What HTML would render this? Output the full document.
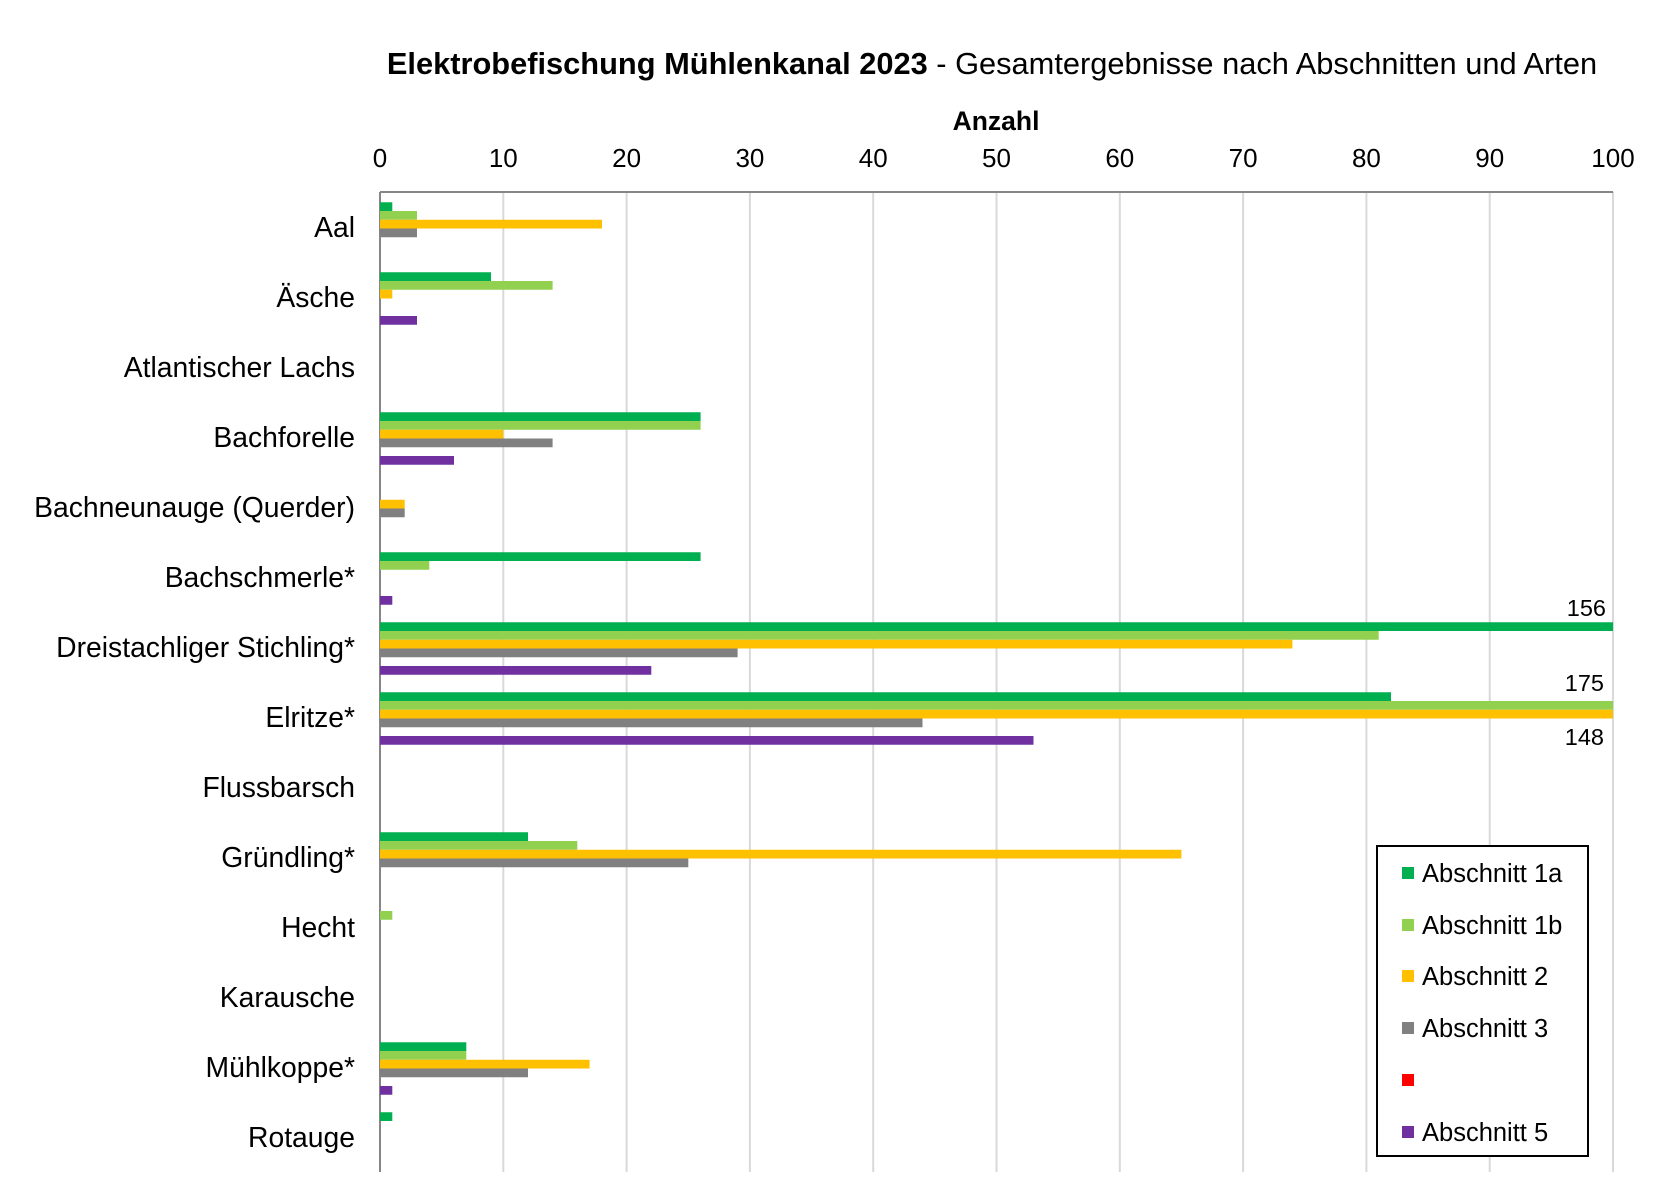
<!DOCTYPE html>
<html><head><meta charset="utf-8"><style>
html,body{margin:0;padding:0;background:#fff}
svg{display:block;font-family:"Liberation Sans",Arial,sans-serif}
</style></head><body>
<svg width="1664" height="1200" viewBox="0 0 1664 1200">
<rect width="1664" height="1200" fill="#fff"/>
<text x="992" y="74" font-size="30.8" text-anchor="middle"><tspan font-weight="bold">Elektrobefischung Mühlenkanal 2023</tspan> - Gesamtergebnisse nach Abschnitten und Arten</text>
<text x="996" y="130" font-size="26.5" font-weight="bold" text-anchor="middle">Anzahl</text>
<g stroke="#d9d9d9" stroke-width="2">
<line x1="503.3" y1="192" x2="503.3" y2="1172"/><line x1="626.6" y1="192" x2="626.6" y2="1172"/>
<line x1="749.9" y1="192" x2="749.9" y2="1172"/><line x1="873.2" y1="192" x2="873.2" y2="1172"/>
<line x1="996.5" y1="192" x2="996.5" y2="1172"/><line x1="1119.8" y1="192" x2="1119.8" y2="1172"/>
<line x1="1243.1" y1="192" x2="1243.1" y2="1172"/><line x1="1366.4" y1="192" x2="1366.4" y2="1172"/>
<line x1="1489.7" y1="192" x2="1489.7" y2="1172"/><line x1="1613" y1="192" x2="1613" y2="1172"/>
</g>
<line x1="380" y1="192" x2="1613" y2="192" stroke="#868686" stroke-width="2"/>
<line x1="380" y1="192" x2="380" y2="1172" stroke="#868686" stroke-width="2"/>
<g font-size="26" text-anchor="middle">
<text x="380" y="167">0</text><text x="503.3" y="167">10</text><text x="626.6" y="167">20</text><text x="749.9" y="167">30</text><text x="873.2" y="167">40</text><text x="996.5" y="167">50</text><text x="1119.8" y="167">60</text><text x="1243.1" y="167">70</text><text x="1366.4" y="167">80</text><text x="1489.7" y="167">90</text><text x="1613" y="167">100</text>
</g>
<g font-size="28.3" text-anchor="end">
<text x="355" y="237">Aal</text><text x="355" y="307">Äsche</text><text x="355" y="377">Atlantischer Lachs</text><text x="355" y="447">Bachforelle</text><text x="355" y="517">Bachneunauge (Querder)</text><text x="355" y="587">Bachschmerle*</text><text x="355" y="657">Dreistachliger Stichling*</text><text x="355" y="727">Elritze*</text><text x="355" y="797">Flussbarsch</text><text x="355" y="867">Gründling*</text><text x="355" y="937">Hecht</text><text x="355" y="1007">Karausche</text><text x="355" y="1077">Mühlkoppe*</text><text x="355" y="1147">Rotauge</text>
</g>
<g transform="translate(0,1.5)">
<rect x="380" y="200.75" width="12.3" height="8.75" fill="#00b050"/>
<rect x="380" y="209.5" width="37" height="8.75" fill="#92d050"/>
<rect x="380" y="218.25" width="222" height="8.75" fill="#ffc000"/>
<rect x="380" y="227" width="37" height="8.75" fill="#808080"/>
<rect x="380" y="270.75" width="111" height="8.75" fill="#00b050"/>
<rect x="380" y="279.5" width="172.6" height="8.75" fill="#92d050"/>
<rect x="380" y="288.25" width="12.3" height="8.75" fill="#ffc000"/>
<rect x="380" y="314.5" width="37" height="8.75" fill="#7030a0"/>
<rect x="380" y="410.75" width="320.6" height="8.75" fill="#00b050"/>
<rect x="380" y="419.5" width="320.6" height="8.75" fill="#92d050"/>
<rect x="380" y="428.25" width="123.3" height="8.75" fill="#ffc000"/>
<rect x="380" y="437" width="172.6" height="8.75" fill="#808080"/>
<rect x="380" y="454.5" width="74" height="8.75" fill="#7030a0"/>
<rect x="380" y="498.25" width="24.7" height="8.75" fill="#ffc000"/>
<rect x="380" y="507" width="24.7" height="8.75" fill="#808080"/>
<rect x="380" y="550.75" width="320.6" height="8.75" fill="#00b050"/>
<rect x="380" y="559.5" width="49.3" height="8.75" fill="#92d050"/>
<rect x="380" y="594.5" width="12.3" height="8.75" fill="#7030a0"/>
<rect x="380" y="620.75" width="1233" height="8.75" fill="#00b050"/>
<rect x="380" y="629.5" width="998.7" height="8.75" fill="#92d050"/>
<rect x="380" y="638.25" width="912.4" height="8.75" fill="#ffc000"/>
<rect x="380" y="647" width="357.6" height="8.75" fill="#808080"/>
<rect x="380" y="664.5" width="271.3" height="8.75" fill="#7030a0"/>
<rect x="380" y="690.75" width="1011" height="8.75" fill="#00b050"/>
<rect x="380" y="699.5" width="1233" height="8.75" fill="#92d050"/>
<rect x="380" y="708.25" width="1233" height="8.75" fill="#ffc000"/>
<rect x="380" y="717" width="542.5" height="8.75" fill="#808080"/>
<rect x="380" y="734.5" width="653.5" height="8.75" fill="#7030a0"/>
<rect x="380" y="830.75" width="148" height="8.75" fill="#00b050"/>
<rect x="380" y="839.5" width="197.3" height="8.75" fill="#92d050"/>
<rect x="380" y="848.25" width="801.4" height="8.75" fill="#ffc000"/>
<rect x="380" y="857" width="308.3" height="8.75" fill="#808080"/>
<rect x="380" y="909.5" width="12.3" height="8.75" fill="#92d050"/>
<rect x="380" y="1040.75" width="86.3" height="8.75" fill="#00b050"/>
<rect x="380" y="1049.5" width="86.3" height="8.75" fill="#92d050"/>
<rect x="380" y="1058.25" width="209.6" height="8.75" fill="#ffc000"/>
<rect x="380" y="1067" width="148" height="8.75" fill="#808080"/>
<rect x="380" y="1084.5" width="12.3" height="8.75" fill="#7030a0"/>
<rect x="380" y="1110.75" width="12.3" height="8.75" fill="#00b050"/>
</g>
<g font-size="23.5" text-anchor="end">
<text x="1606" y="616">156</text><text x="1604" y="691">175</text><text x="1604" y="745">148</text>
</g>
<rect x="1377" y="846" width="211" height="310" fill="#fff" stroke="#000" stroke-width="2"/>
<g font-size="25.5">
<rect x="1402" y="867" width="12" height="12" fill="#00b050"/><text x="1422" y="882">Abschnitt 1a</text>
<rect x="1402" y="919" width="12" height="12" fill="#92d050"/><text x="1422" y="934">Abschnitt 1b</text>
<rect x="1402" y="970" width="12" height="12" fill="#ffc000"/><text x="1422" y="985">Abschnitt 2</text>
<rect x="1402" y="1022" width="12" height="12" fill="#808080"/><text x="1422" y="1037">Abschnitt 3</text>
<rect x="1402" y="1074" width="12" height="12" fill="#ff0000"/>
<rect x="1402" y="1126" width="12" height="12" fill="#7030a0"/><text x="1422" y="1141">Abschnitt 5</text>
</g>
</svg>
</body></html>
